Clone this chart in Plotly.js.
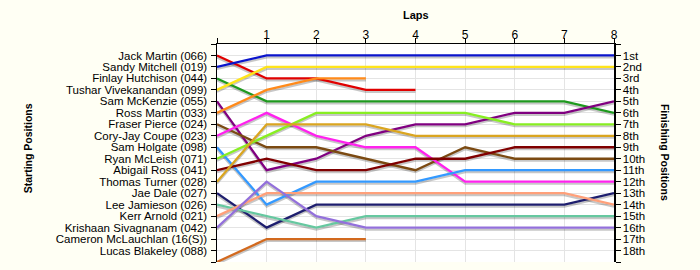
<!DOCTYPE html>
<html>
<head>
<meta charset="utf-8">
<script src="https://cdn.plot.ly/plotly-3.0.1.min.js"></script>
<style>html,body{margin:0;padding:0;background:#fffff4;}#chart{width:700px;height:270px;}</style>
</head>
<body>
<div id="chart"></div>
<script>
// Starting grid labels (left axis), finishing labels (right axis), lap labels
const startingLabels = ["Jack Martin (066)", "Sandy Mitchell (019)", "Finlay Hutchison (044)", "Tushar Vivekanandan (099)",
  "Sam McKenzie (055)", "Ross Martin (033)", "Fraser Pierce (024)", "Cory-Jay Coupe (023)", "Sam Holgate (098)",
  "Ryan McLeish (071)", "Abigail Ross (041)", "Thomas Turner (028)", "Jae Dale (027)", "Lee Jamieson (026)",
  "Kerr Arnold (021)", "Krishaan Sivagnanam (042)", "Cameron McLauchlan (16(S))", "Lucas Blakeley (088)"];
const finishingLabels = ["1st","2nd","3rd","4th","5th","6th","7th","8th","9th","10th","11th","12th","13th","14th","15th","16th","17th","18th"];
const laps = [0, 1, 2, 3, 4, 5, 6, 7, 8];
const lapLabels = ["", "1", "2", "3", "4", "5", "6", "7", "8"];

// Position of each driver at the end of each lap (lap 0 = grid)
const jackMartin      = [1, 3, 3, 4, 4];
const sandyMitchell   = [2, 1, 1, 1, 1, 1, 1, 1, 1];
const finlayHutchison = [3, 5, 5, 5, 5, 5, 5, 5, 6];
const tushar          = [4, 2, 2, 2, 2, 2, 2, 2, 2];
const samMcKenzie     = [5, 11, 10, 8, 7, 7, 6, 6, 5];
const rossMartin      = [6, 4, 3, 3];
const fraserPierce    = [7, 9, 9, 10, 11, 9, 10, 10, 10];
const coryJayCoupe    = [8, 6, 8, 9, 9, 12, 12, 12, 12];
const samHolgate      = [9, 14, 12, 12, 12, 11, 11, 11, 11];
const ryanMcLeish     = [10, 8, 6, 6, 6, 6, 7, 7, 7];
const abigailRoss     = [11, 10, 11, 11, 10, 10, 9, 9, 9];
const thomasTurner    = [12, 7, 7, 7, 8, 8, 8, 8, 8];
const jaeDale         = [13, 16, 14, 14, 14, 14, 14, 14, 13];
const leeJamieson     = [14, 15, 16, 15, 15, 15, 15, 15, 15];
const kerrArnold      = [15, 13, 13, 13, 13, 13, 13, 13, 14];
const krishaan        = [16, 12, 15, 16, 16, 16, 16, 16, 16];
const cameronMcL      = [19, 17, 17, 17];

const series = [jackMartin, sandyMitchell, finlayHutchison, tushar, samMcKenzie, rossMartin, fraserPierce,
  coryJayCoupe, samHolgate, ryanMcLeish, abigailRoss, thomasTurner, jaeDale, leeJamieson, kerrArnold, krishaan, cameronMcL];
const seriesNames = startingLabels.slice(0, 17);
const colors = ["#e00000", "#0a14cc", "#1f991f", "#ffe41a", "#800080", "#ff8a1a", "#7b4a12", "#ff22ee", "#3399ff",
  "#88ee22", "#800000", "#daa520", "#1e1e6e", "#66c8a0", "#ffa07a", "#9370db", "#d2691e"];

const traces = [];
// soft drop shadows
series.forEach((s) => {
  traces.push({x: laps.slice(0, s.length), y: s.map(v => v + 0.17), type: "scatter", mode: "lines",
    line: {color: "rgba(0,0,0,0.22)", width: 2.2}, hoverinfo: "skip", showlegend: false});
});
series.forEach((s, i) => {
  traces.push({x: laps.slice(0, s.length), y: s, type: "scatter", mode: "lines", name: seriesNames[i],
    line: {color: colors[i], width: 2.3}, showlegend: false});
});
// anchors for the right axis and the grid axis
traces.push({x: [0], y: [1], yaxis: "y2", mode: "none", type: "scatter", hoverinfo: "skip", showlegend: false});
traces.push({x: [0], y: [1], yaxis: "y3", mode: "none", type: "scatter", hoverinfo: "skip", showlegend: false});

const tickPositions = Array.from({length: 20}, (_, i) => i);
const leftText = tickPositions.map(i => (i >= 1 && i <= 18) ? startingLabels[i - 1] : "");
const rightText = tickPositions.map(i => (i >= 1 && i <= 18) ? finishingLabels[i - 1] : "");
const fontFam = "Liberation Sans, Arial, sans-serif";

const layout = {
  width: 700, height: 270,
  paper_bgcolor: "#fffff4", plot_bgcolor: "#ffffff",
  margin: {l: 217, r: 86, t: 44, b: 8, pad: 0},
  font: {family: fontFam, size: 11.5, color: "#000"},
  xaxis: {side: "top", range: [0, 8], tickmode: "array", tickvals: laps, ticktext: lapLabels,
    ticks: "outside", ticklen: 5, tickcolor: "#000", showline: true, linecolor: "#000", linewidth: 1.5,
    showgrid: true, gridcolor: "#e4e4e4", zeroline: false, tickfont: {size: 12, family: fontFam},
    ticklabelstandoff: -6, fixedrange: true},
  yaxis: {range: [19, 0], tickmode: "array", tickvals: tickPositions, ticktext: leftText,
    ticks: "outside", ticklen: 5, tickcolor: "#000", showline: true, linecolor: "#000", linewidth: 1.5,
    showgrid: false, zeroline: false, tickfont: {size: 11.5, family: fontFam}, ticklabelstandoff: 1},
  yaxis2: {overlaying: "y", side: "right", range: [19, 0], tickmode: "array", tickvals: tickPositions, ticktext: rightText,
    ticks: "outside", ticklen: 5, tickcolor: "#000", showline: true, linecolor: "#000", linewidth: 1.5,
    showgrid: false, zeroline: false, tickfont: {size: 11.5, family: fontFam}},
  yaxis3: {overlaying: "y", side: "left", range: [19, 0], tickmode: "array", tickvals: finishingLabels.map((_, i) => i + 1),
    showticklabels: false, ticks: "", showline: false, showgrid: true, gridcolor: "#e4e4e4", zeroline: false},
  annotations: [
    {text: "<b>Laps</b>", xref: "paper", yref: "paper", x: 0.5, y: 1.133, xanchor: "center", yanchor: "middle",
      showarrow: false, font: {size: 11, family: fontFam}},
    {text: "<b>Starting Positions</b>", xref: "paper", yref: "paper", x: -0.477, y: 0.52, xanchor: "center", yanchor: "middle",
      textangle: -90, showarrow: false, font: {size: 10.5, family: fontFam}},
    {text: "<b>Finishing Positions</b>", xref: "paper", yref: "paper", x: 1.1285, y: 0.505, xanchor: "center", yanchor: "middle",
      textangle: 90, showarrow: false, font: {size: 10.5, family: fontFam}}
  ]
};

Plotly.newPlot("chart", traces, layout, {displayModeBar: false, staticPlot: true});
</script>
</body>
</html>
